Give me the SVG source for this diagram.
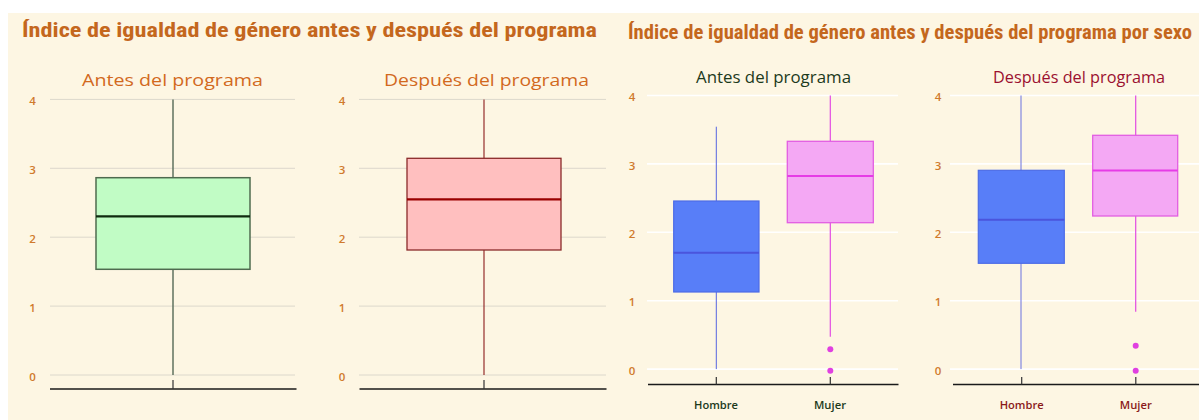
<svg xmlns="http://www.w3.org/2000/svg" width="1199" height="420" viewBox="0 0 1199 420">
<style>
.title{font-family:"Liberation Sans Narrow","Roboto Condensed","Liberation Sans",Arial,sans-serif;font-weight:bold;font-size:20px;fill:#c4671d}
.sub{font-family:"Open Sans","Lato",sans-serif;font-size:17px}
.tick{font-family:"Open Sans","Lato",sans-serif;font-size:11.5px;font-weight:600;fill:#d07a2c;text-anchor:middle;dominant-baseline:central}
.cat{font-family:"Open Sans","Lato",sans-serif;font-size:11px;font-weight:600;text-anchor:middle}
.gridL{stroke:#dcd8cc;stroke-width:1}
.gridR{stroke:#ffffff;stroke-width:1.6}
.axis{stroke:#1a1a1a;stroke-width:1.5}
.tk{stroke:#333;stroke-width:1.2}
</style>
<rect x="0" y="0" width="1199" height="420" fill="#ffffff"/>
<rect x="8" y="13" width="1191" height="407" fill="#fdf6e3"/>

<text class="title" x="22" y="37" textLength="575" lengthAdjust="spacingAndGlyphs">Índice de igualdad de género antes y después del programa</text>
<text class="title" x="628" y="39" textLength="564" lengthAdjust="spacingAndGlyphs">Índice de igualdad de género antes y después del programa por sexo</text>

<g id="panel-antes">
<text class="sub" x="82" y="86" fill="#d2691e" textLength="181" lengthAdjust="spacingAndGlyphs">Antes del programa</text>
<g class="gridL">
<line x1="50" y1="99.4" x2="295" y2="99.4"/>
<line x1="50" y1="168.3" x2="295" y2="168.3"/>
<line x1="50" y1="237.2" x2="295" y2="237.2"/>
<line x1="50" y1="306.1" x2="295" y2="306.1"/>
<line x1="50" y1="375" x2="295" y2="375"/>
</g>
<text class="tick" x="32.5" y="100">4</text>
<text class="tick" x="32.5" y="169">3</text>
<text class="tick" x="32.5" y="238">2</text>
<text class="tick" x="32.5" y="307">1</text>
<text class="tick" x="32.5" y="376">0</text>
<line x1="173" y1="99.4" x2="173" y2="375" stroke="#5f725f" stroke-width="1.5"/>
<rect x="96" y="177.7" width="154" height="91.6" fill="#c1fcc5" stroke="#4f6b4f" stroke-width="1.5"/>
<line x1="96" y1="216.3" x2="250" y2="216.3" stroke="#0f2a0f" stroke-width="2.2"/>
<line class="axis" x1="50" y1="389" x2="296.5" y2="389"/>
<line class="tk" x1="173" y1="380" x2="173" y2="389"/>
</g>

<g id="panel-despues">
<text class="sub" x="384" y="86" fill="#d2691e" textLength="205" lengthAdjust="spacingAndGlyphs">Después del programa</text>
<g class="gridL">
<line x1="359" y1="99.4" x2="606" y2="99.4"/>
<line x1="359" y1="168.3" x2="606" y2="168.3"/>
<line x1="359" y1="237.2" x2="606" y2="237.2"/>
<line x1="359" y1="306.1" x2="606" y2="306.1"/>
<line x1="359" y1="375" x2="606" y2="375"/>
</g>
<text class="tick" x="342" y="100">4</text>
<text class="tick" x="342" y="169">3</text>
<text class="tick" x="342" y="238">2</text>
<text class="tick" x="342" y="307">1</text>
<text class="tick" x="342" y="376">0</text>
<line x1="484" y1="99.4" x2="484" y2="375" stroke="#8b1a1a" stroke-width="1.1"/>
<rect x="407" y="158.3" width="154" height="91.7" fill="#ffbfbf" stroke="#8b2a2a" stroke-width="1.3"/>
<line x1="407" y1="199.3" x2="561" y2="199.3" stroke="#990000" stroke-width="2.2"/>
<line class="axis" x1="359.5" y1="389" x2="606.5" y2="389"/>
<line class="tk" x1="484" y1="380" x2="484" y2="389"/>
</g>

<g id="panel-sexo-antes">
<text class="sub" x="696" y="82.5" fill="#1c3a1c" textLength="155" lengthAdjust="spacingAndGlyphs">Antes del programa</text>
<g class="gridR">
<line x1="647" y1="95.5" x2="898" y2="95.5"/>
<line x1="647" y1="163.9" x2="898" y2="163.9"/>
<line x1="647" y1="232.3" x2="898" y2="232.3"/>
<line x1="647" y1="300.7" x2="898" y2="300.7"/>
<line x1="647" y1="369.1" x2="898" y2="369.1"/>
</g>
<text class="tick" x="632" y="96">4</text>
<text class="tick" x="632" y="165">3</text>
<text class="tick" x="632" y="233">2</text>
<text class="tick" x="632" y="301">1</text>
<text class="tick" x="632" y="370">0</text>
<line x1="716.3" y1="126.7" x2="716.3" y2="369.1" stroke="#5566e0" stroke-width="1"/>
<rect x="673.7" y="201" width="85.3" height="91" fill="#587ef8" stroke="#4d6ce6" stroke-width="1.2"/>
<line x1="673.7" y1="252.7" x2="759" y2="252.7" stroke="#4a55dd" stroke-width="2"/>
<line x1="830.3" y1="95.5" x2="830.3" y2="336.7" stroke="#e24ce2" stroke-width="1.2"/>
<rect x="787.3" y="141.3" width="86" height="81.4" fill="#f4a8f4" stroke="#e25ee2" stroke-width="1.3"/>
<line x1="787.3" y1="176" x2="873.3" y2="176" stroke="#e63ce6" stroke-width="2.2"/>
<circle cx="830.3" cy="349.3" r="3" fill="#e040e0"/>
<circle cx="830.3" cy="370.7" r="3" fill="#e040e0"/>
<line class="axis" x1="648" y1="384.5" x2="898.5" y2="384.5"/>
<line class="tk" x1="716.3" y1="377" x2="716.3" y2="384.5"/>
<line class="tk" x1="830.3" y1="377" x2="830.3" y2="384.5"/>
<text class="cat" x="716" y="409" fill="#1c3a1c" textLength="44" lengthAdjust="spacingAndGlyphs">Hombre</text>
<text class="cat" x="830" y="409" fill="#1c3a1c" textLength="32" lengthAdjust="spacingAndGlyphs">Mujer</text>
</g>

<g id="panel-sexo-despues">
<text class="sub" x="993" y="82.5" fill="#9b1030" textLength="172" lengthAdjust="spacingAndGlyphs">Después del programa</text>
<g class="gridR">
<line x1="950" y1="95.5" x2="1199" y2="95.5"/>
<line x1="950" y1="163.9" x2="1199" y2="163.9"/>
<line x1="950" y1="232.3" x2="1199" y2="232.3"/>
<line x1="950" y1="300.7" x2="1199" y2="300.7"/>
<line x1="950" y1="369.1" x2="1199" y2="369.1"/>
</g>
<text class="tick" x="938" y="96">4</text>
<text class="tick" x="938" y="165">3</text>
<text class="tick" x="938" y="233">2</text>
<text class="tick" x="938" y="301">1</text>
<text class="tick" x="938" y="370">0</text>
<line x1="1021" y1="95.5" x2="1021" y2="369.1" stroke="#6a72e0" stroke-width="1"/>
<rect x="978.3" y="170.3" width="86" height="93" fill="#587ef8" stroke="#4d6ce6" stroke-width="1.2"/>
<line x1="978.3" y1="219.7" x2="1064.3" y2="219.7" stroke="#4a55dd" stroke-width="2"/>
<line x1="1135.7" y1="95.5" x2="1135.7" y2="311.7" stroke="#e24ce2" stroke-width="1.2"/>
<rect x="1092.7" y="135.3" width="85" height="80.7" fill="#f4a8f4" stroke="#e25ee2" stroke-width="1.3"/>
<line x1="1092.7" y1="170.5" x2="1177.7" y2="170.5" stroke="#e63ce6" stroke-width="2.2"/>
<circle cx="1135.7" cy="345.7" r="3" fill="#e040e0"/>
<circle cx="1135.7" cy="370.7" r="3" fill="#e040e0"/>
<line class="axis" x1="953" y1="384.5" x2="1199" y2="384.5"/>
<line class="tk" x1="1021.7" y1="377" x2="1021.7" y2="384.5"/>
<line class="tk" x1="1135.8" y1="377" x2="1135.8" y2="384.5"/>
<text class="cat" x="1021.7" y="409" fill="#8b1a1a" textLength="44" lengthAdjust="spacingAndGlyphs">Hombre</text>
<text class="cat" x="1135.8" y="409" fill="#8b1a1a" textLength="32" lengthAdjust="spacingAndGlyphs">Mujer</text>
</g>
</svg>
